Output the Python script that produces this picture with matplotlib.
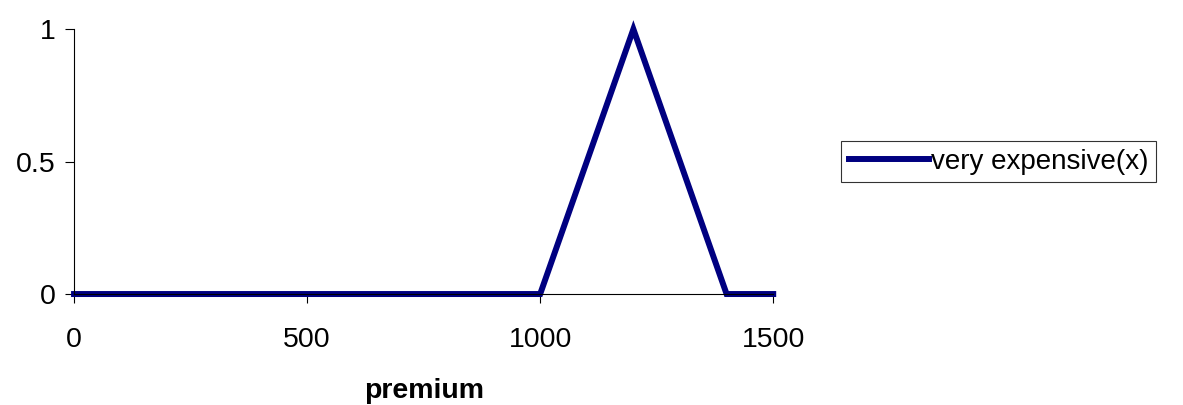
import matplotlib.pyplot as plt
plt.switch_backend('Agg')
plt.rcParams["font.family"] = ["Liberation Sans", "DejaVu Sans"]

premium = [0, 1000, 1200, 1400, 1500]
very_expensive = [0, 0, 1, 0, 0]

fig = plt.figure(figsize=(11.83, 4.05), dpi=100)
ax = fig.add_axes([0.0626, 0.274, 0.591, 0.654])
ax.plot(premium, very_expensive, color="#000080", linewidth=4.3,
        solid_joinstyle="miter", clip_on=False, label="very expensive(x)")
ax.set_xlim(0, 1500)
ax.set_ylim(0, 1)
ax.set_xticks([0, 500, 1000, 1500])
ax.set_yticks([0, 0.5, 1])
ax.set_yticklabels(["0", "0.5", "1"])
for s in ["top", "right"]:
    ax.spines[s].set_visible(False)
for s in ["left", "bottom"]:
    ax.spines[s].set_linewidth(0.8)
ax.tick_params(labelsize=20.5, length=6.5, width=0.8)
ax.tick_params(axis="x", pad=17)
ax.tick_params(axis="y", pad=7)
ax.set_xlabel("premium", fontsize=20.5, fontweight="bold", labelpad=18)
leg = ax.legend(loc="center left", bbox_to_anchor=(1.097, 0.5), fontsize=20,
                frameon=True, fancybox=False, edgecolor="black",
                handlelength=2.9, handletextpad=0.05, borderpad=0.28,
                borderaxespad=0)
leg.get_frame().set_linewidth(0.8)
fig.savefig("out.png", dpi=100)
